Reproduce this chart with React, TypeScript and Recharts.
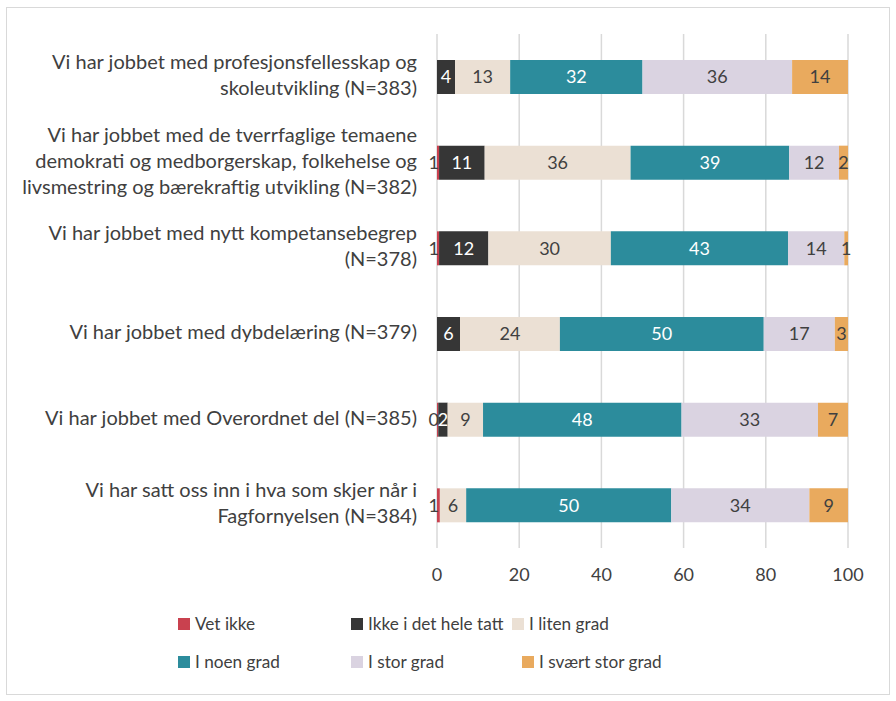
import React from 'react';
import { BarChart, Bar, XAxis, YAxis, CartesianGrid, LabelList } from 'recharts';

const categories = [
  'Vi har jobbet med profesjonsfellesskap og|skoleutvikling (N=383)',
  'Vi har jobbet med de tverrfaglige temaene|demokrati og medborgerskap, folkehelse og|livsmestring og bærekraftig utvikling (N=382)',
  'Vi har jobbet med nytt kompetansebegrep|(N=378)',
  'Vi har jobbet med dybdelæring (N=379)',
  'Vi har jobbet med Overordnet del (N=385)',
  'Vi har satt oss inn i hva som skjer når i|Fagfornyelsen (N=384)',
];

// percentages (labels are rounded)
const vetIkke = [null, 0.5, 0.5, null, 0.3, 0.7];
const ikkeIDetHeleTatt = [4.4, 11.1, 12, 5.6, 2.3, null];
const iLitenGrad = [13.4, 35.5, 29.8, 24.3, 8.6, 6.4];
const iNoenGrad = [32.2, 38.6, 43.1, 49.6, 48.3, 49.9];
const iStorGrad = [36.4, 12.1, 13.7, 17.3, 33.2, 33.6];
const iSvaertStorGrad = [13.6, 2.2, 0.9, 3.2, 7.3, 9.4];

const xTicks = [0, 20, 40, 60, 80, 100];

const series = [
  { key: 'vetIkke', name: 'Vet ikke', values: vetIkke, color: '#C9414F', text: '#404040' },
  { key: 'ikke', name: 'Ikke i det hele tatt', values: ikkeIDetHeleTatt, color: '#363636', text: '#ffffff' },
  { key: 'liten', name: 'I liten grad', values: iLitenGrad, color: '#EBE0D4', text: '#404040' },
  { key: 'noen', name: 'I noen grad', values: iNoenGrad, color: '#2C8C9C', text: '#ffffff' },
  { key: 'stor', name: 'I stor grad', values: iStorGrad, color: '#DAD3E1', text: '#404040' },
  { key: 'svaert', name: 'I svært stor grad', values: iSvaertStorGrad, color: '#E9AA5E', text: '#404040' },
];

const data = categories.map((name, i) => {
  const row: any = { name };
  series.forEach((s) => {
    row[s.key] = s.values[i];
  });
  return row;
});

const FONT = 'Lato, "Open Sans", sans-serif';
const TEXT = '#404040';

const CategoryTick = (props: any) => {
  const { x, y, payload } = props;
  const lines: string[] = String(payload.value).split('|');
  const lh = 26;
  const start = -((lines.length - 1) * lh) / 2;
  return (
    <text x={x - 12} y={y} textAnchor="end" fill={TEXT} fontSize={20} fontFamily={FONT}>
      {lines.map((l, i) => (
        <tspan key={i} x={x - 12} y={y - 2 + start + i * lh} dy="0.35em">
          {l}
        </tspan>
      ))}
    </text>
  );
};

const legendRows = [series.slice(0, 3), series.slice(3, 6)];
const legendCols = [
  [171, 344, 505],
  [171, 344, 515],
];

export default function App() {
  return (
    <div
      style={{
        position: 'absolute',
        left: 6,
        top: 7,
        width: 884,
        height: 688,
        border: '1px solid #d9d9d9',
        boxSizing: 'border-box',
        background: '#fff',
      }}
    >
      <BarChart
        width={882}
        height={686}
        data={data}
        layout="vertical"
        margin={{ top: 26, right: 41, left: 0, bottom: 116 }}
        barSize={34}
      >
        <CartesianGrid horizontal={false} stroke="#d9d9d9" strokeWidth={1.5} />
        <XAxis
          type="number"
          domain={[0, 100]}
          ticks={xTicks}
          allowDataOverflow
          axisLine={false}
          tickLine={false}
          tickSize={0}
          tickMargin={20}
          height={30}
          tick={{ fill: TEXT, fontSize: 18, fontFamily: FONT }}
        />
        <YAxis
          type="category"
          dataKey="name"
          width={430}
          axisLine={false}
          tickLine={false}
          tick={<CategoryTick />}
        />
        {series.map((s) => (
          <Bar key={s.key} dataKey={s.key} name={s.name} stackId="a" fill={s.color} isAnimationActive={false}>
            <LabelList
              dataKey={s.key}
              position={s.key === 'vetIkke' ? 'left' : 'center'}
              offset={s.key === 'vetIkke' ? -2 : 5}
              fill={s.text}
              fontSize={18}
              fontFamily={FONT}
              formatter={(v: any) => (v == null ? '' : Math.round(Number(v)))}
            />
          </Bar>
        ))}
      </BarChart>
      {legendRows.map((row, ri) => (
        <div key={ri}>
          {row.map((s, ci) => (
            <div
              key={s.key}
              style={{
                position: 'absolute',
                left: legendCols[ri][ci],
                top: 605 + ri * 38,
                display: 'flex',
                alignItems: 'center',
                fontFamily: FONT,
                fontSize: 17.2,
                color: TEXT,
                whiteSpace: 'nowrap',
              }}
            >
              <span style={{ display: 'inline-block', width: 12, height: 12, background: s.color, marginRight: 5 }} />
              {s.name}
            </div>
          ))}
        </div>
      ))}
    </div>
  );
}
